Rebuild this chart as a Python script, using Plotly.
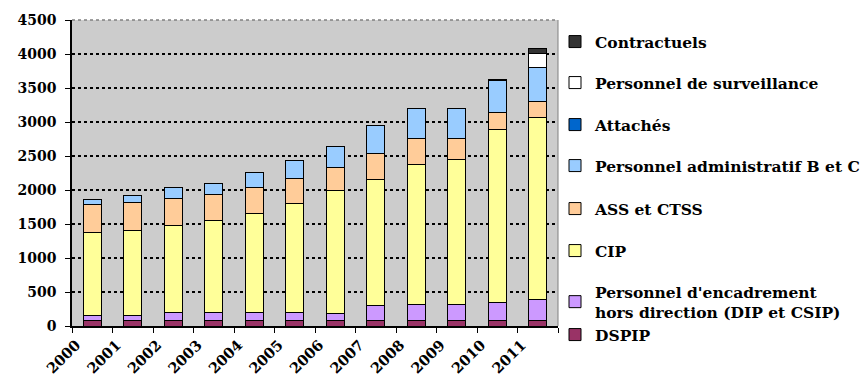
import plotly.graph_objects as go

years = ["2000", "2001", "2002", "2003", "2004", "2005",
         "2006", "2007", "2008", "2009", "2010", "2011"]

dspip = [80, 80, 80, 80, 80, 80, 80, 80, 80, 80, 80, 80]
encadrement = [75, 75, 115, 115, 120, 115, 110, 215, 240, 240, 270, 315]
cip = [1225, 1255, 1290, 1360, 1455, 1605, 1800, 1860, 2055, 2125, 2540, 2670]
ass_ctss = [410, 410, 395, 375, 385, 370, 345, 375, 385, 315, 245, 230]
admin_bc = [75, 95, 155, 170, 220, 260, 305, 415, 435, 435, 470, 505]
attaches = [0, 0, 0, 0, 0, 0, 0, 0, 0, 0, 0, 5]
surveillance = [0, 0, 0, 0, 0, 0, 0, 0, 0, 0, 0, 205]
contractuels = [0, 0, 0, 0, 0, 0, 0, 0, 0, 0, 15, 70]

series = [
    ("DSPIP", dspip, "#993366"),
    ("Personnel d'encadrement<br>hors direction (DIP et CSIP)", encadrement, "#CC99FF"),
    ("CIP", cip, "#FFFF99"),
    ("ASS et CTSS", ass_ctss, "#FFCC99"),
    ("Personnel administratif B et C", admin_bc, "#99CCFF"),
    ("Attachés", attaches, "#0066CC"),
    ("Personnel de surveillance", surveillance, "#FFFFFF"),
    ("Contractuels", contractuels, "#333333"),
]

# vertical centre (px from top) of each legend entry, bottom series first
legend_rows = [335, 302, 251, 209, 166, 125, 83, 42]

W, H = 863, 378
font_family = "DejaVu Serif"
legend_font = dict(family=font_family, size=15.5, color="#000000", weight=700)

fig = go.Figure()
layout_legends = {}
for i, (name, vals, color) in enumerate(series):
    key = "legend" if i == 0 else f"legend{i + 1}"
    fig.add_trace(go.Bar(
        x=years, y=vals, name=name,
        marker=dict(color=color, line=dict(color="#000000", width=1)),
        legend=key,
    ))
    layout_legends[key] = dict(
        xref="container", yref="container",
        x=555 / W, xanchor="left",
        y=1 - legend_rows[i] / H, yanchor="middle",
        font=legend_font,
        bgcolor="rgba(0,0,0,0)",
        borderwidth=0,
        itemwidth=30,
    )

fig.update_layout(
    barmode="stack",
    bargap=0.55,
    width=W, height=H,
    margin=dict(l=72, r=305, t=20, b=52, autoexpand=False),
    paper_bgcolor="#FFFFFF",
    plot_bgcolor="#CCCCCC",
    font=dict(family=font_family, size=14, color="#000000", weight=700),
    showlegend=True,
    **layout_legends,
)

fig.update_yaxes(
    range=[0, 4500], dtick=500,
    automargin=False,
    showgrid=True, gridcolor="#000000", griddash="dot", gridwidth=2,
    showline=True, linecolor="#000000", linewidth=1.5,
    ticks="outside", ticklen=5, tickcolor="#000000",
    tickfont=dict(family=font_family, size=14, weight=700),
    ticklabelstandoff=6,
    zeroline=False,
)

fig.update_xaxes(
    type="category",
    automargin=False,
    tickson="boundaries",
    ticks="outside", ticklen=5, tickcolor="#000000",
    showline=True, linecolor="#000000", linewidth=1.5,
    tickangle=-45,
    tickfont=dict(family=font_family, size=14.5, weight=700),
    ticklabelshift=-16,
    ticklabelstandoff=3,
    showgrid=False,
)

# Gray frame along top and right edges of the plot area
fig.add_shape(type="line", xref="paper", yref="paper", x0=0, x1=1, y0=1, y1=1,
              line=dict(color="#808080", width=1.5, dash="dot"))
fig.add_shape(type="line", xref="paper", yref="paper", x0=1, x1=1, y0=0, y1=1,
              line=dict(color="#808080", width=1))

fig.write_html("out.html")
